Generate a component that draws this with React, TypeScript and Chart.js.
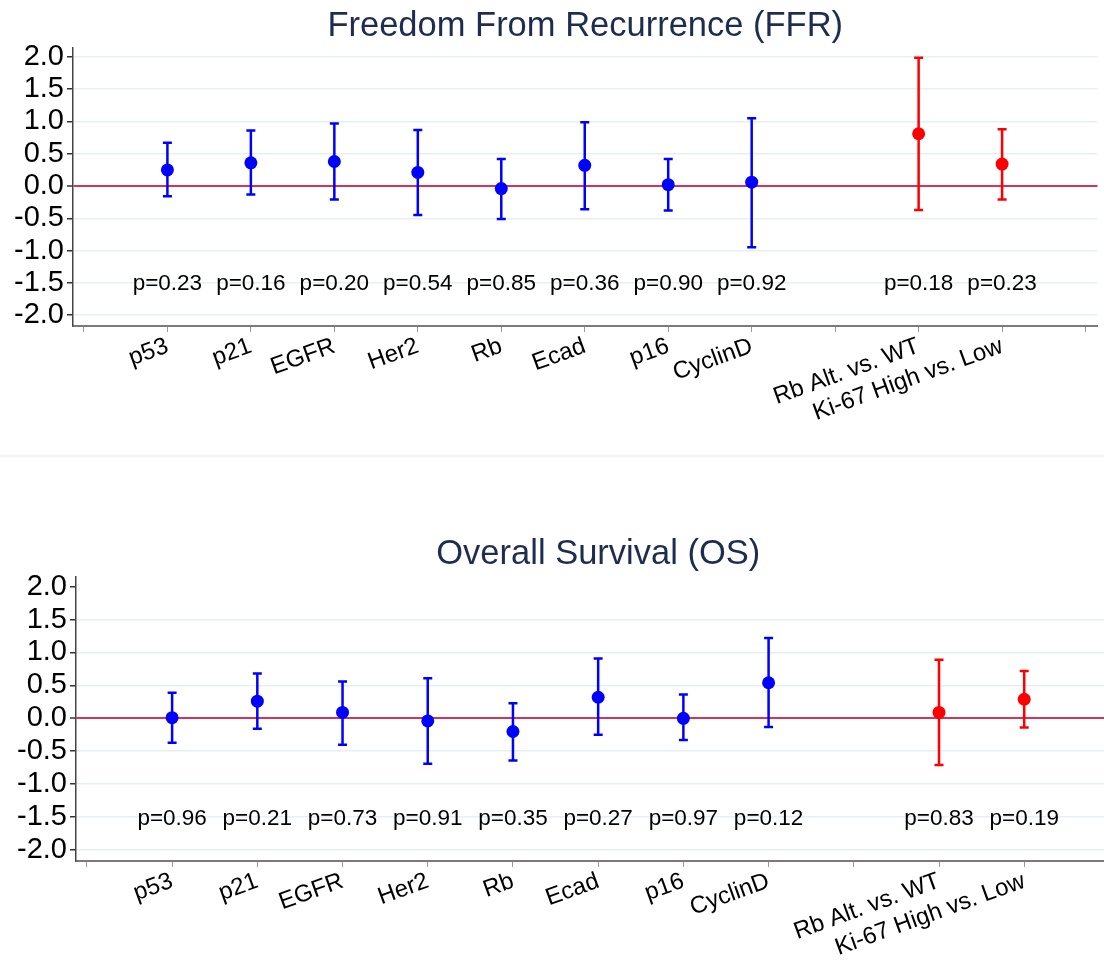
import React, { useEffect, useRef } from 'react';
import { Chart, registerables } from 'chart.js';

Chart.register(...registerables);
Chart.defaults.font.family = "'Liberation Sans', Arial, sans-serif";
Chart.defaults.color = '#000';

// x-axis slots (blank slots are unlabeled ticks)
const categories = ['', 'p53', 'p21', 'EGFR', 'Her2', 'Rb', 'Ecad', 'p16', 'CyclinD', '', 'Rb Alt. vs. WT', 'Ki-67 High vs. Low', ''];
const markers = ['p53', 'p21', 'EGFR', 'Her2', 'Rb', 'Ecad', 'p16', 'CyclinD', 'Rb Alt. vs. WT', 'Ki-67 High vs. Low'];
const markerColors = ['#0000ff', '#0000ff', '#0000ff', '#0000ff', '#0000ff', '#0000ff', '#0000ff', '#0000ff', '#ff0000', '#ff0000'];
const yTicks = [-2, -1.5, -1, -0.5, 0, 0.5, 1, 1.5, 2];

// Freedom From Recurrence
const ffrEst = [0.25, 0.36, 0.38, 0.21, -0.04, 0.32, 0.02, 0.06, 0.81, 0.34];
const ffrLow = [-0.16, -0.13, -0.21, -0.45, -0.51, -0.36, -0.38, -0.95, -0.37, -0.21];
const ffrHigh = [0.67, 0.86, 0.97, 0.87, 0.42, 0.99, 0.42, 1.05, 1.99, 0.88];
const ffrP = [0.23, 0.16, 0.2, 0.54, 0.85, 0.36, 0.9, 0.92, 0.18, 0.23];

// Overall Survival
const osEst = [0.01, 0.26, 0.09, -0.04, -0.2, 0.32, 0.0, 0.54, 0.09, 0.29];
const osLow = [-0.37, -0.16, -0.4, -0.69, -0.64, -0.25, -0.33, -0.13, -0.71, -0.14];
const osHigh = [0.39, 0.68, 0.56, 0.61, 0.23, 0.91, 0.36, 1.22, 0.89, 0.72];
const osP = [0.96, 0.21, 0.73, 0.91, 0.35, 0.27, 0.97, 0.12, 0.83, 0.19];

const pLabelY = -1.52;

type Props = {
  title: string;
  est: number[];
  lo: number[];
  hi: number[];
  p: number[];
  width: number;
  height: number;
  yWidth: number;
  xHeight: number;
  xMin: number;
  xMax: number;
  yMin: number;
  yMax: number;
  titleTop: number;
  titleBottom: number;
  topGrid: boolean;
};

function ForestChart(props: Props) {
  const ref = useRef<HTMLCanvasElement | null>(null);
  useEffect(() => {
    if (!ref.current) return;
    const { est, lo, hi, p } = props;
    const xs = markers.map((m) => categories.indexOf(m));
    const errorBars = {
      id: 'errorBars',
      beforeDatasetsDraw(chart: any) {
        const { ctx, scales } = chart;
        const x = scales.x;
        const y = scales.y;
        ctx.save();
        lo.forEach((l, i) => {
          const px = x.getPixelForValue(xs[i]);
          const pl = y.getPixelForValue(l);
          const ph = y.getPixelForValue(hi[i]);
          ctx.strokeStyle = markerColors[i];
          ctx.lineWidth = 2.5;
          ctx.beginPath();
          ctx.moveTo(px, pl);
          ctx.lineTo(px, ph);
          ctx.moveTo(px - 4.5, pl);
          ctx.lineTo(px + 4.5, pl);
          ctx.moveTo(px - 4.5, ph);
          ctx.lineTo(px + 4.5, ph);
          ctx.stroke();
        });
        ctx.restore();
      },
      afterDatasetsDraw(chart: any) {
        const { ctx, scales } = chart;
        const x = scales.x;
        const y = scales.y;
        ctx.save();
        ctx.font = "22.5px 'Liberation Sans', Arial, sans-serif";
        ctx.fillStyle = '#000';
        ctx.textAlign = 'center';
        ctx.textBaseline = 'middle';
        p.forEach((v, i) => {
          ctx.fillText('p=' + v.toFixed(2), x.getPixelForValue(xs[i]), y.getPixelForValue(pLabelY));
        });
        ctx.restore();
      },
    };
    const gridColor = (c: any) => {
      const v = c.tick ? c.tick.value : null;
      if (v === 0) return '#d8315b';
      if (v === 2 && !props.topGrid) return 'rgba(0,0,0,0)';
      return '#e6eff3';
    };
    const chart = new Chart(ref.current, {
      type: 'scatter',
      data: {
        datasets: [
          {
            data: xs.map((xv, i) => ({ x: xv, y: est[i] })),
            pointRadius: 6.5,
            pointHoverRadius: 6.5,
            pointBorderWidth: 0,
            pointBackgroundColor: markerColors,
            pointBorderColor: markerColors,
          },
        ],
      },
      options: {
        animation: false,
        responsive: false,
        events: [],
        layout: { padding: 0 },
        plugins: {
          legend: { display: false },
          tooltip: { enabled: false },
          title: {
            display: true,
            text: props.title,
            fullSize: false,
            color: '#1e2c50',
            font: { size: 34.5, weight: 'normal', lineHeight: 1.1 },
            padding: { top: props.titleTop, bottom: props.titleBottom },
          },
        },
        scales: {
          x: {
            type: 'linear',
            min: props.xMin,
            max: props.xMax,
            afterBuildTicks: (s: any) => {
              s.ticks = categories.map((_, i) => ({ value: i }));
            },
            afterFit: (s: any) => {
              s.height = props.xHeight;
            },
            grid: {
              drawOnChartArea: false,
              drawTicks: true,
              tickLength: 6,
              tickColor: '#9a9a9a',
              tickWidth: 1,
            },
            border: { display: true, color: '#7a7a7a', width: 2 },
            ticks: {
              autoSkip: false,
              minRotation: 20,
              maxRotation: 20,
              padding: 0,
              color: '#000',
              font: { size: 24 },
              callback: (v: any) => categories[Number(v)] ?? '',
            },
          },
          y: {
            type: 'linear',
            min: props.yMin,
            max: props.yMax,
            afterBuildTicks: (s: any) => {
              s.ticks = yTicks.map((v) => ({ value: v }));
            },
            afterFit: (s: any) => {
              s.width = props.yWidth;
            },
            grid: {
              color: gridColor,
              lineWidth: (c: any) => (c.tick && c.tick.value === 0 ? 2 : 1.5),
              drawTicks: true,
              tickLength: 6,
              tickColor: '#333',
              tickWidth: 1.5,
            },
            border: { display: true, color: '#444', width: 1.5 },
            ticks: {
              autoSkip: false,
              padding: 3,
              color: '#000',
              font: { size: 29 },
              callback: (v: any) => Number(v).toFixed(1),
            },
          },
        },
      },
      plugins: [errorBars],
    } as any);
    return () => chart.destroy();
  }, []);
  return <canvas ref={ref} width={props.width} height={props.height} style={{ display: 'block' }} />;
}

export default function App() {
  return (
    <div style={{ position: 'absolute', left: 0, top: 0, width: 1104, height: 960, background: '#fff', overflow: 'hidden' }}>
      <div style={{ position: 'absolute', left: 0, top: 0, width: 1104, height: 456 }}>
        <ForestChart
          title="Freedom From Recurrence (FFR)"
          est={ffrEst}
          lo={ffrLow}
          hi={ffrHigh}
          p={ffrP}
          width={1104}
          height={456}
          yWidth={73}
          xHeight={130}
          xMin={-0.131}
          xMax={12.143}
          yMin={-2.17}
          yMax={2.14}
          titleTop={8}
          titleBottom={2}
          topGrid={true}
        />
      </div>
      <div style={{ position: 'absolute', left: 0, top: 455, width: 1104, height: 2, background: '#f3f3f3' }} />
      <div style={{ position: 'absolute', left: 0, top: 458, width: 1104, height: 502, overflow: 'hidden' }}>
        <ForestChart
          title="Overall Survival (OS)"
          est={osEst}
          lo={osLow}
          hi={osHigh}
          p={osP}
          width={1127}
          height={502}
          yWidth={76}
          xHeight={99}
          xMin={-0.128}
          xMax={12.13}
          yMin={-2.167}
          yMax={2.147}
          titleTop={78}
          titleBottom={3}
          topGrid={false}
        />
      </div>
    </div>
  );
}
